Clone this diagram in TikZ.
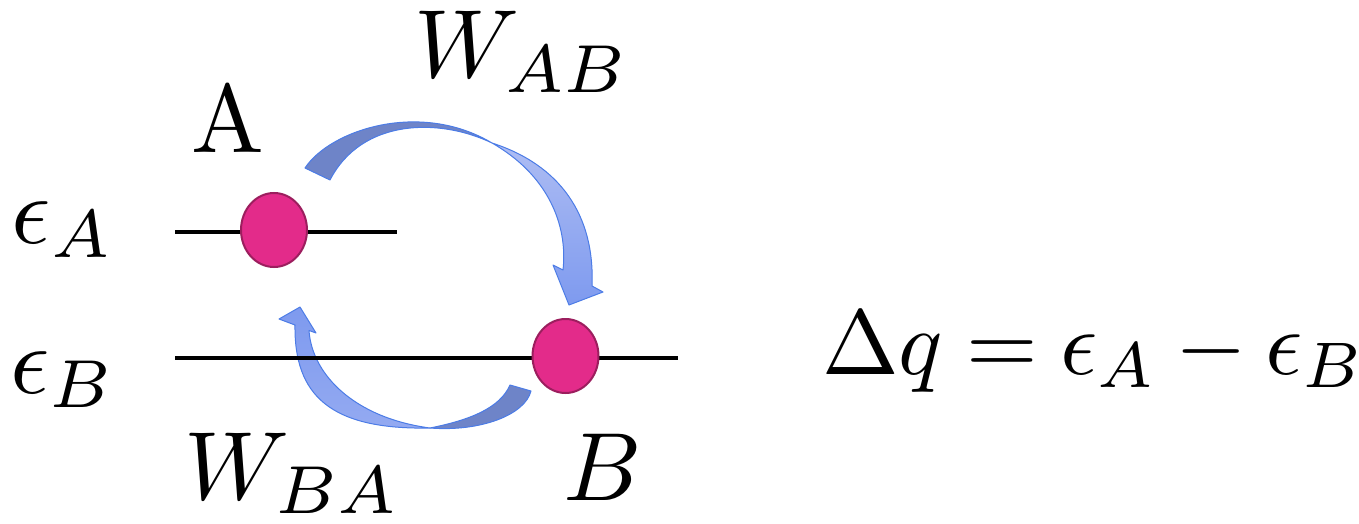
\documentclass[tikz,border=0pt]{standalone}
\usepackage{graphicx}
\usetikzlibrary{shapes.geometric}
\definecolor{dotfill}{HTML}{E32B8A}
\definecolor{dotedge}{HTML}{9C1E5E}
\definecolor{backface}{HTML}{6E84C8}
\definecolor{frontlight}{HTML}{AEBDF3}
\definecolor{frontdark}{HTML}{7E9AEF}
\definecolor{frontmid}{HTML}{94AAF1}
\definecolor{rim}{HTML}{4C7CE6}
\newcommand\BigLbl[1]{\scalebox{9.7}{#1}}
\newcommand\EqLbl[1]{\scalebox{9.2}{\thickmuskip=4.5mu \medmuskip=3.5mu #1}}
\tikzset{
  dotstyle/.style={ellipse, fill=dotfill, draw=dotedge, line width=2pt, minimum width=66pt, minimum height=74pt, inner sep=0pt},
  level/.style={line width=4pt, black},
  lbl/.style={inner sep=0pt, outer sep=0pt},
  ribbonback/.style={fill=backface, draw=rim, line width=1pt, line join=round},
  ribbonfront/.style={draw=rim, line width=1pt, line join=round},
}
\begin{document}
\begin{tikzpicture}[x=1pt, y=-1pt]
\useasboundingbox (0,0) rectangle (1359,524);
% arrow A -> B (top)
\path[ribbonback] (305,168) .. controls (330,130) and (420,100) .. (492,143)
  .. controls (440,118) and (362,118) .. (330,180) -- cycle;
\path[ribbonfront, top color=frontlight, bottom color=frontdark]
  (492,143) .. controls (560,165) and (595,215) .. (592,286)
  -- (603,292) -- (569,305) -- (553,265) -- (563,270)
  .. controls (568,225) and (548,175) .. (492,143) -- cycle;
% arrow B -> A (bottom)
\path[ribbonback] (510,385) -- (531,391) .. controls (525,415) and (480,432) .. (430,428)
  .. controls (470,420) and (500,408) .. (510,385) -- cycle;
\path[ribbonfront, top color=frontdark, bottom color=frontmid]
  (430,428) .. controls (330,430) and (294,395) .. (295,325)
  -- (279,319) -- (300,307) -- (316,333) -- (309,330.5)
  .. controls (312,375) and (355,418) .. (430,428) -- cycle;
% levels
\coordinate (la1) at (175,232);
\coordinate (la2) at (397,232);
\coordinate (lb1) at (175,358);
\coordinate (lb2) at (678,358);
\draw[level] (la1) -- (la2);
\draw[level] (lb1) -- (lb2);
% particles
\node[dotstyle] (dA) at (274,230) {};
\node[dotstyle] (dB) at (565.5,356) {};
% labels
\node[lbl, anchor=base] (tA) at (227.5,152) {\BigLbl{A}};
\node[lbl, anchor=base west] (wab) at (414,78) {\BigLbl{$W_{AB}$}};
\node[lbl, anchor=base west] (eA) at (12,243) {\BigLbl{$\epsilon_A$}};
\node[lbl, anchor=base west] (eB) at (10,393) {\BigLbl{$\epsilon_B$}};
\node[lbl, anchor=base west] (wba) at (184,499) {\BigLbl{$W_{BA}$}};
\node[lbl, anchor=base west] (tB) at (563,500) {\BigLbl{$B$}};
\node[lbl, anchor=base west] (eq) at (822,374) {\EqLbl{$\Delta q = \epsilon_A - \epsilon_B$}};
\end{tikzpicture}
\end{document}
